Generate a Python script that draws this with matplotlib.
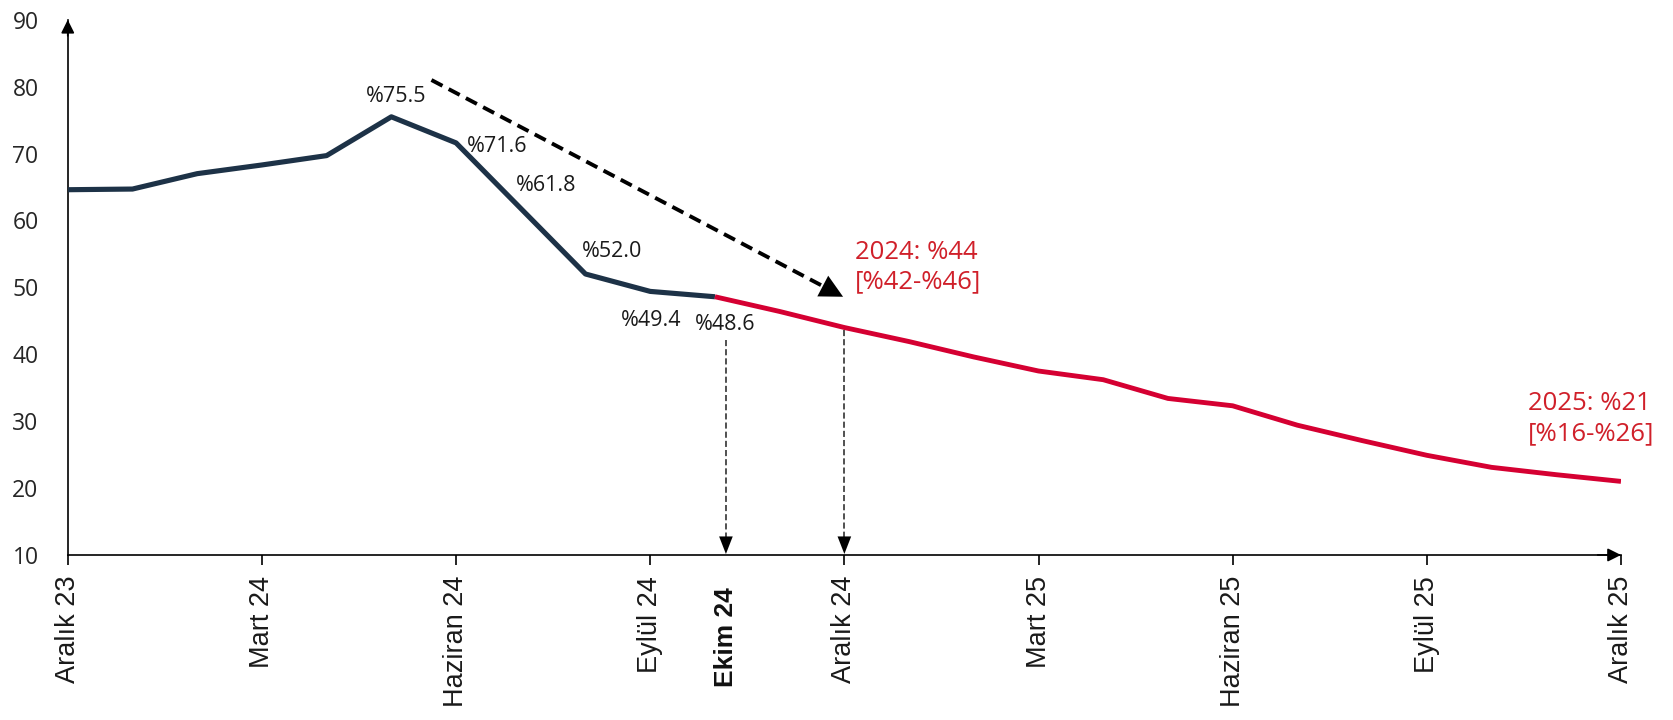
import matplotlib
matplotlib.use("Agg")
import matplotlib.pyplot as plt

# ---- data ----
hist_months = [0, 1, 2, 3, 4, 5, 6, 7, 8, 9, 10]
hist_values = [64.6, 64.7, 67.0, 68.3, 69.7, 75.5, 71.6, 61.8, 52.0, 49.4, 48.6]
fc_months = [10, 11, 12, 13, 14, 15, 16, 17, 18, 19, 20, 21, 22, 23, 24]
fc_values = [48.6, 46.4, 44.0, 41.9, 39.6, 37.5, 36.2, 33.4, 32.3, 29.4, 27.1, 24.9, 23.1, 22.0, 21.0]
x_tick_pos = [0, 3, 6, 9, 12, 15, 18, 21, 24]
x_tick_labels = ["Aralık 23", "Mart 24", "Haziran 24", "Eylül 24", "Aralık 24",
                 "Mart 25", "Haziran 25", "Eylül 25", "Aralık 25"]
y_ticks = [10, 20, 30, 40, 50, 60, 70, 80, 90]
point_labels = ["%75.5", "%71.6", "%61.8", "%52.0", "%49.4", "%48.6"]
label_2024 = "2024: %44\n[%42-%46]"
label_2025 = "2025: %21\n[%16-%26]"
ekim_label = "Ekim 24"

DARK = "#1d3247"
RED = "#d50032"
RED_TXT = "#d0202a"
TXT = "#222222"

fig = plt.figure(figsize=(16.73, 7.2), dpi=100)
ax = fig.add_axes([0.0405, 0.2292, 0.9284, 0.7433])

ax.plot(hist_months, hist_values, color=DARK, lw=3.7, solid_joinstyle="round",
        solid_capstyle="butt", zorder=3)
ax.plot(fc_months, fc_values, color=RED, lw=3.5, solid_joinstyle="round",
        solid_capstyle="butt", zorder=4)

ax.set_xlim(0, 24)
ax.set_ylim(10, 90)

# spines / axis arrows
for s in ["top", "right"]:
    ax.spines[s].set_visible(False)
for s in ["left", "bottom"]:
    ax.spines[s].set_linewidth(1.2)
    ax.spines[s].set_color("black")
ax.annotate("", xy=(1.0, 0.0), xycoords="axes fraction", xytext=(0.985, 0.0),
            arrowprops=dict(arrowstyle="-|>", color="black", lw=1.2,
                            mutation_scale=20, shrinkA=0, shrinkB=0),
            annotation_clip=False)
ax.annotate("", xy=(0.0, 1.0), xycoords="axes fraction", xytext=(0.0, 0.97),
            arrowprops=dict(arrowstyle="-|>", color="black", lw=1.2,
                            mutation_scale=20, shrinkA=0, shrinkB=0),
            annotation_clip=False)

# ticks
ax.set_xticks(x_tick_pos)
ax.set_xticklabels(x_tick_labels, rotation=90, fontsize=19.5,
                   family=["Liberation Sans", "DejaVu Sans"], color="#1a1a1a")
ax.tick_params(axis="x", length=7, width=1.2, pad=8, color="black")
ax.set_yticks(y_ticks)
ax.set_yticklabels([str(v) for v in y_ticks], fontsize=16.5,
                   family=["Open Sans", "DejaVu Sans"], color="#262626")
ax.tick_params(axis="y", length=0, pad=21)

# Ekim 24 extra label
ax.annotate(ekim_label, xy=(10.17, 10), xytext=(0, -23), textcoords="offset points",
            rotation=90, ha="center", va="top", fontsize=19, fontweight="bold",
            family=["Liberation Sans", "DejaVu Sans"], color="#111111",
            annotation_clip=False)

# point labels
lbl_pos = [(5.07, 78.6), (6.64, 71.1), (7.39, 65.2), (8.41, 55.4), (9.01, 45.05), (10.15, 44.45)]
for txt, (px, py) in zip(point_labels, lbl_pos):
    ax.text(px, py, txt, ha="center", va="center", fontsize=15.5,
            family=["Open Sans", "DejaVu Sans"], color="#1a1a1a", zorder=5)

# red forecast labels
ax.text(12.16, 53.0, label_2024, ha="left", va="center", fontsize=18.5,
        family=["Open Sans", "DejaVu Sans"], color=RED_TXT, linespacing=1.25)
ax.text(22.56, 30.35, label_2025, ha="left", va="center", fontsize=18.5,
        family=["Open Sans", "DejaVu Sans"], color=RED_TXT, linespacing=1.25)

# big dashed trend arrow
x0, y0, x1, y1 = 5.62, 81.0, 11.98, 48.6
f = 0.955
ax.plot([x0, x0 + (x1 - x0) * f], [y0, y0 + (y1 - y0) * f], color="black",
        lw=2.8, dashes=(3.2, 1.8), zorder=2)
ax.annotate("", xy=(x1, y1), xytext=(x0, y0),
            arrowprops=dict(arrowstyle="-|>,head_length=0.55,head_width=0.28",
                            color="black", lw=0.01, mutation_scale=30,
                            shrinkA=0, shrinkB=0))

# vertical dashed arrows
for vx, vtop in [(10.17, 42.1), (12.0, 43.6)]:
    ax.plot([vx, vx], [vtop, 11.5], color="#222222", lw=1.1, dashes=(4, 2), zorder=2)
    ax.annotate("", xy=(vx, 10.15), xytext=(vx, vtop),
                arrowprops=dict(arrowstyle="-|>,head_length=0.9,head_width=0.35",
                                color="black", lw=0.01, mutation_scale=14,
                                shrinkA=0, shrinkB=0))

fig.savefig("out.png", dpi=100)
